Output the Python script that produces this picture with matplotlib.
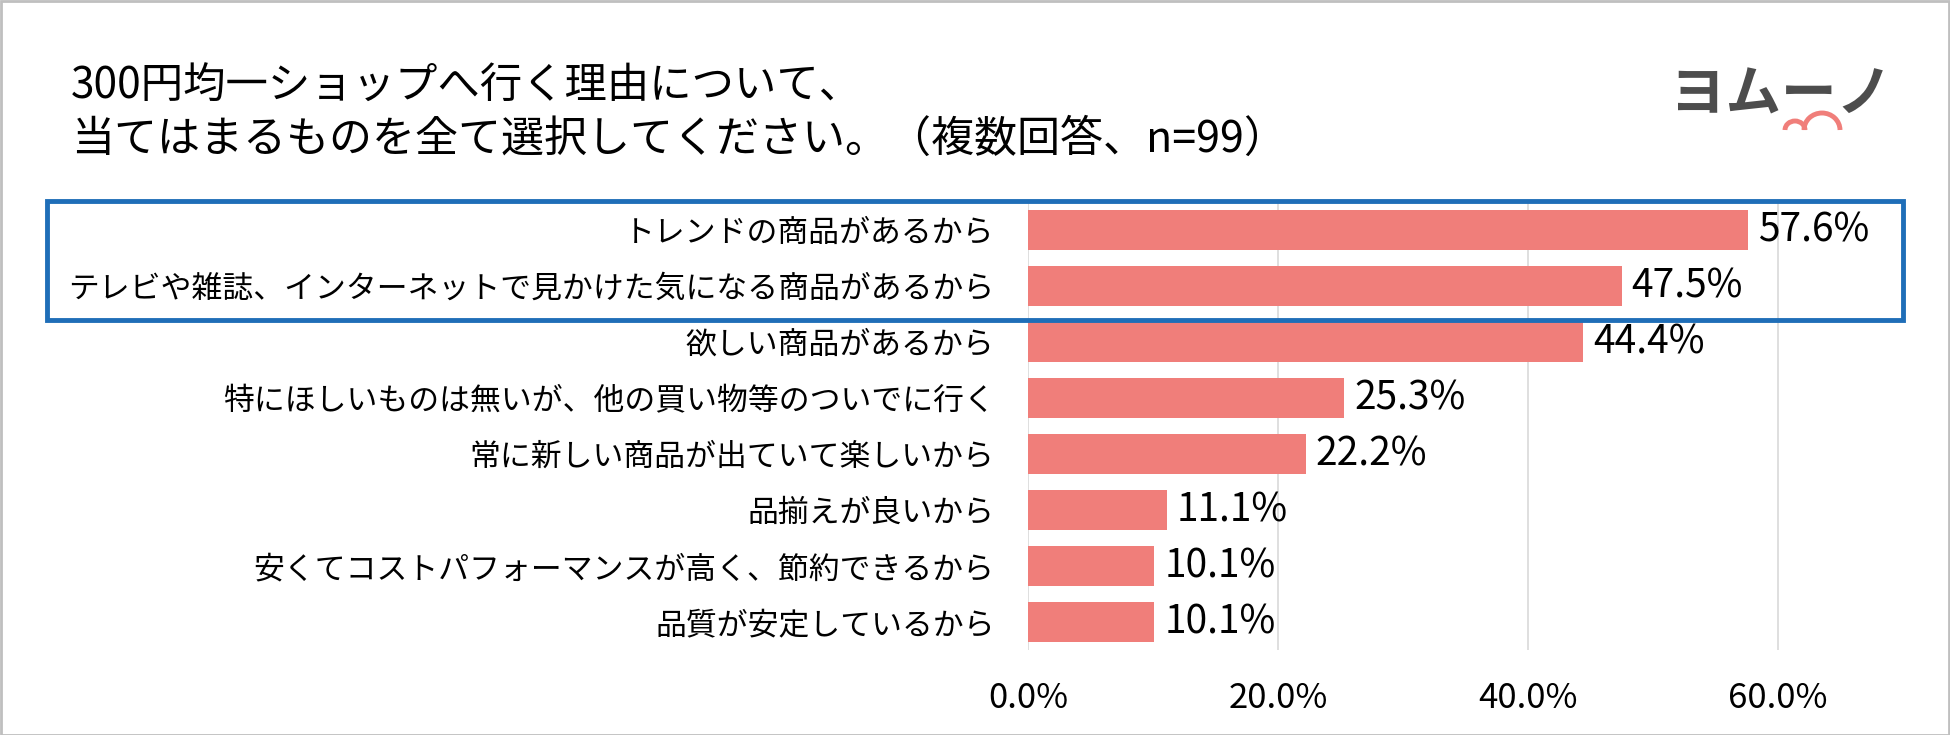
import matplotlib
matplotlib.use("Agg")
import matplotlib.pyplot as plt
from matplotlib.patches import Rectangle, Arc

plt.rcParams['font.family'] = ['Noto Sans CJK JP', 'DejaVu Sans']

categories = [
    "トレンドの商品があるから",
    "テレビや雑誌、インターネットで見かけた気になる商品があるから",
    "欲しい商品があるから",
    "特にほしいものは無いが、他の買い物等のついでに行く",
    "常に新しい商品が出ていて楽しいから",
    "品揃えが良いから",
    "安くてコストパフォーマンスが高く、節約できるから",
    "品質が安定しているから",
]
values = [57.6, 47.5, 44.4, 25.3, 22.2, 11.1, 10.1, 10.1]
xticks = [0, 20, 40, 60]
xtick_labels = ["0.0%", "20.0%", "40.0%", "60.0%"]
title_lines = ["300円均一ショップへ行く理由について、",
               "当てはまるものを全て選択してください。（複数回答、n=99）"]

W, H = 1950, 735
fig = plt.figure(figsize=(W / 100, H / 100), dpi=100)
fig.patch.set_facecolor("white")

ax = fig.add_axes([1028 / W, 1 - 650 / H, (1903 - 1028) / W, (650 - 202) / H])
y = list(range(len(categories)))
ax.barh(y, values, height=0.71, color="#F07E7A", zorder=3)
ax.set_ylim(len(categories) - 0.5, -0.5)
ax.set_xlim(0, 70)
ax.set_yticks(y)
ax.set_yticklabels(categories, fontsize=22.2)
ax.set_xticks(xticks)
ax.set_xticklabels(xtick_labels, fontsize=25)
ax.tick_params(axis='y', length=0, pad=24)
ax.tick_params(axis='x', length=0, pad=22)
for s in ax.spines.values():
    s.set_visible(False)
ax.grid(axis='x', color="#D9D9D9", linewidth=1.2, zorder=0)
ax.set_axisbelow(True)
for yi, v in zip(y, values):
    ax.text(v + 0.8, yi, f"{v:.1f}%", va='center', ha='left', fontsize=28, color="black")

# title
fig.text(71 / W, 1 - 87 / H, title_lines[0], fontsize=30.5, va='center', ha='left')
fig.text(71 / W, 1 - 140 / H, title_lines[1], fontsize=31, va='center', ha='left')

# highlight box
fig.add_artist(Rectangle((47 / W, 1 - 320 / H), (1903 - 47) / W, (320 - 201) / H,
                         transform=fig.transFigure, fill=False,
                         edgecolor="#1F6EB8", linewidth=3.5))

# logo
fig.text(1781 / W, 1 - 95 / H, "ヨムーノ", fontsize=40, color="#4D4D4D",
         va='center', ha='center', fontweight='bold')
fig.add_artist(Arc((1822 / W, 1 - 130 / H), 36 / W, 34 / H, theta1=0, theta2=180,
                   transform=fig.transFigure, color="#F07E7A", linewidth=3.5))
fig.add_artist(Arc((1795 / W, 1 - 130 / H), 20 / W, 18 / H, theta1=0, theta2=180,
                   transform=fig.transFigure, color="#F07E7A", linewidth=3.5))

# figure border
fig.add_artist(Rectangle((0.5 / W, 0.5 / H), 1 - 1.5 / W, 1 - 1.5 / H,
                         transform=fig.transFigure, fill=False,
                         edgecolor="#BFBFBF", linewidth=2))

fig.savefig("out.png", dpi=100)
